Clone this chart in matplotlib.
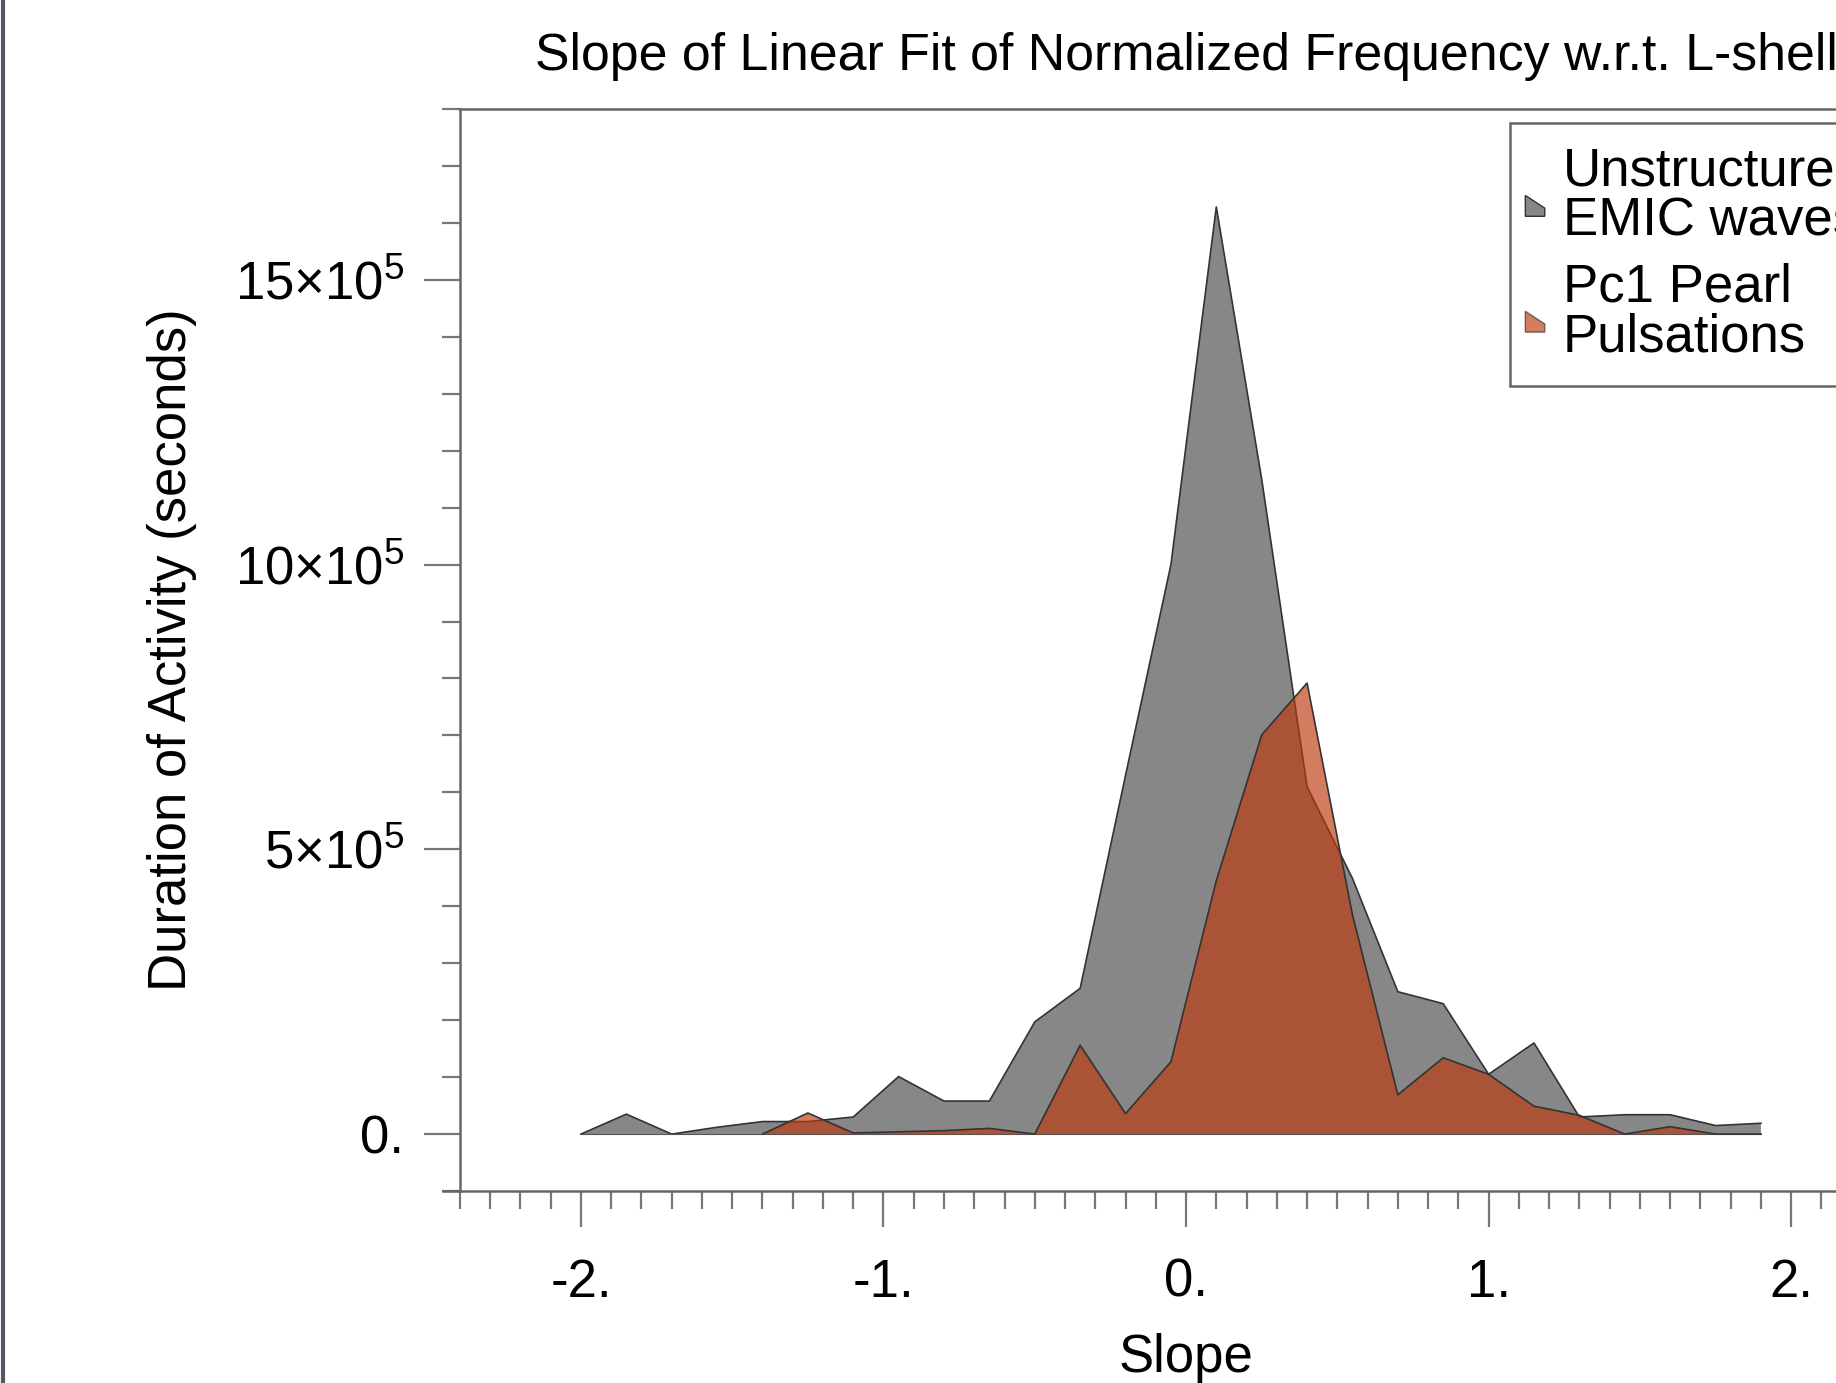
import numpy as np
import matplotlib
matplotlib.use("Agg")
import matplotlib.pyplot as plt
from matplotlib.lines import Line2D
from matplotlib.patches import Polygon, Patch
from matplotlib.legend_handler import HandlerPatch
from matplotlib.ticker import FixedLocator, MultipleLocator, FuncFormatter

plt.rcParams['font.family'] = ['Liberation Sans', 'DejaVu Sans']
plt.rcParams['mathtext.fontset'] = 'custom'
plt.rcParams['mathtext.rm'] = 'Liberation Sans'
plt.rcParams['mathtext.it'] = 'Liberation Sans:italic'

# slope bins
slope = [-2.0, -1.85, -1.7, -1.55, -1.4, -1.25, -1.1, -0.95, -0.8, -0.65,
         -0.5, -0.35, -0.2, -0.05, 0.1, 0.25, 0.4, 0.55, 0.7, 0.85,
         1.0, 1.15, 1.3, 1.45, 1.6, 1.75, 1.9]

# duration of activity (seconds)
emic = [0, 35000, 0, 12000, 22000, 22000, 30000, 101000, 58000, 58000,
        197000, 256000, 630000, 1000000, 1628000, 1150000, 610000, 449000, 250000, 229000,
        105000, 160000, 30000, 34000, 34000, 15000, 19000]
pc1 = [np.nan, np.nan, np.nan, np.nan, 0, 37000, 2000, 4000, 6000, 10000,
       0, 156000, 36000, 127000, 445000, 701000, 792000, 385000, 69000, 134000,
       105000, 49000, 33000, 0, 13000, 0, 0]

labels = ["Unstructured\nEMIC waves", "Pc1 Pearl\nPulsations"]
gray_c = '#878787'
orange_c = (0.75, 0.22, 0.05)
orange_a = 0.66

fig = plt.figure(figsize=(9.18, 6.915), dpi=200)
ax = fig.add_axes([0.2505, 0.1388, 0.791, 0.7824])

x = np.array(slope)
y1 = np.array(emic, dtype=float)
y2 = np.array(pc1, dtype=float)

ax.fill_between(x, 0, y1, facecolor=gray_c, edgecolor='none', zorder=2)
ax.plot(x, y1, color='#333333', lw=0.6, zorder=3)
ax.plot([x[0], x[-1]], [0, 0], color='#555555', lw=0.4, zorder=3)
ax.fill_between(x, 0, y2, facecolor=orange_c, alpha=orange_a, edgecolor='none', zorder=4)
ax.plot(x, y2, color='#333333', lw=0.6, zorder=5)

ax.set_xlim(-2.4, 2.4)
ax.set_ylim(-1e5, 1.8e6)

ax.xaxis.set_major_locator(FixedLocator([-2, -1, 0, 1, 2]))
ax.xaxis.set_minor_locator(MultipleLocator(0.1))
ax.xaxis.set_major_formatter(FuncFormatter(lambda v, p: "%d." % round(v)))

ax.yaxis.set_major_locator(FixedLocator([0, 5e5, 10e5, 15e5]))
ax.yaxis.set_minor_locator(MultipleLocator(1e5))
ylabs = ['0.', r'$5{\times}10^{5}$', r'$10{\times}10^{5}$', r'$15{\times}10^{5}$']
ax.set_yticklabels(ylabs)

for s in ax.spines.values():
    s.set_color('#666666')
    s.set_linewidth(0.9)

ax.tick_params(axis='x', which='major', direction='out', length=13, width=0.8,
               color='#777777', labelsize=19, pad=11)
ax.tick_params(axis='x', which='minor', direction='out', length=6.5, width=0.8,
               color='#777777')
ax.tick_params(axis='y', which='major', direction='out', length=13, width=0.8,
               color='#777777', labelsize=19, pad=7)
ax.tick_params(axis='y', which='minor', direction='out', length=6.5, width=0.8,
               color='#777777')

# bottom axis line pokes out a bit to the left
ax.plot([-2.456, -2.4], [-1e5, -1e5], color='#666666', lw=0.9, clip_on=False)

ax.set_title("Slope of Linear Fit of Normalized Frequency w.r.t. L-shell",
             fontsize=18.7, pad=14)
ax.set_xlabel("Slope", fontsize=19)
ax.xaxis.set_label_coords(0.5, -0.131)
ax.set_ylabel("Duration of Activity (seconds)", fontsize=19)
ax.yaxis.set_label_coords(-0.181, 0.5)


def wedge(legend, orig_handle, xdescent, ydescent, width, height, fontsize):
    # small slanted swatch, sits a bit left of the handle box
    return Polygon([[-3, height * 0.9], [4, height * 0.35], [4, 0], [-3, 0]], closed=True)


h1 = Patch(facecolor=gray_c, edgecolor='#333333', lw=0.5)
h2 = Patch(facecolor=orange_c, alpha=orange_a, edgecolor='#333333', lw=0.5)
leg = ax.legend([h1, h2], labels, loc='upper left', bbox_to_anchor=(0.723, 0.987),
                fontsize=19, frameon=True, fancybox=False, edgecolor='#666666',
                handlelength=0.4, handleheight=0.3, handletextpad=0.15,
                borderpad=0.45, labelspacing=0.3, borderaxespad=0,
                handler_map={Patch: HandlerPatch(patch_func=wedge)})
leg.get_frame().set_linewidth(0.9)
leg.get_frame().set_alpha(1)
for t in leg.get_texts():
    t.set_linespacing(1.0)

fig.add_artist(Line2D([0.0015, 0.0015], [0, 1], color='#55556a', lw=1.5))

fig.savefig("out.png", dpi=200)
